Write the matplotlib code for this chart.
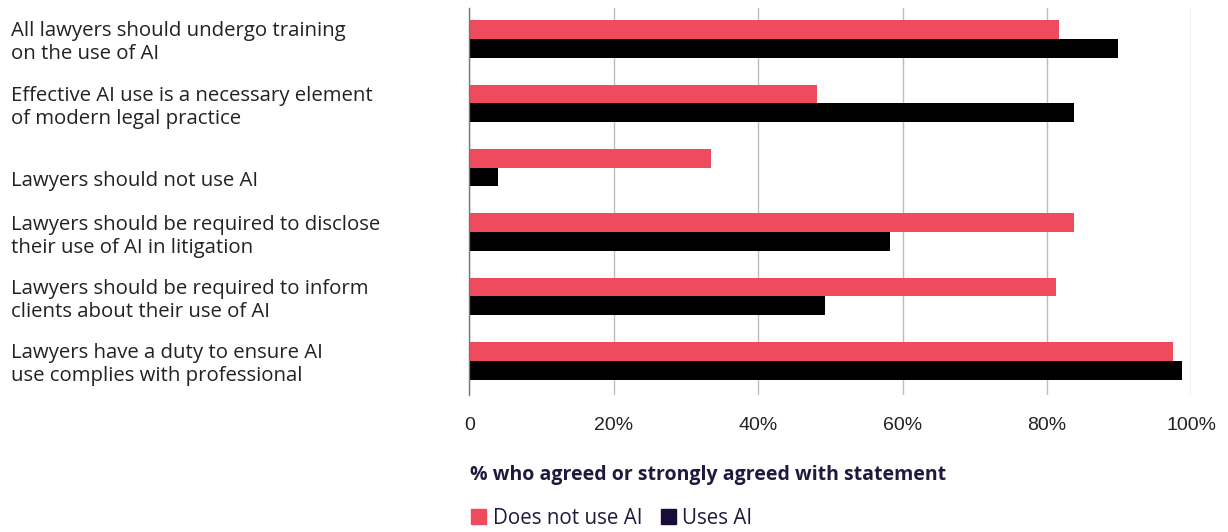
import matplotlib
matplotlib.use('Agg')
import matplotlib.pyplot as plt
from matplotlib.patches import Patch
from matplotlib.transforms import ScaledTranslation

# survey statements, top to bottom
statements = [
    'All lawyers should undergo training\non the use of AI',
    'Effective AI use is a necessary element\nof modern legal practice',
    'Lawyers should not use AI',
    'Lawyers should be required to disclose\ntheir use of AI in litigation',
    'Lawyers should be required to inform\nclients about their use of AI',
    'Lawyers have a duty to ensure AI\nuse complies with professional',
]
no_ai = [81.7, 48.1, 33.4, 83.7, 81.2, 97.5]
uses_ai = [89.8, 83.8, 4.0, 58.2, 49.2, 98.7]

tick_vals = [0, 20, 40, 60, 80, 100]
tick_labels = ['0', '20%', '40%', '60%', '80%', '100%']

red = '#ef4b5e'
navy = '#170c3a'
label_font = 'Open Sans'

fig = plt.figure(figsize=(12.28, 5.32), dpi=100)
ax = fig.add_axes([0.3823, 0.2575, 0.5878, 0.7275])

h = 0.29
ys = list(range(len(statements)))
ax.barh([y - h / 2 for y in ys], no_ai, height=h, color=red, zorder=2)
ax.barh([y + h / 2 for y in ys], uses_ai, height=h, color='black', zorder=2)

ax.set_ylim(len(statements) - 0.47, -0.48)
ax.set_xlim(0, 100)
ax.set_xticks(tick_vals)
ax.set_xticklabels(tick_labels, fontsize=14, color='#222222', family='Liberation Sans')
ax.grid(axis='x', color='#bdbdbd', lw=1, zorder=0)
ax.tick_params(axis='x', length=0, pad=16)
ax.tick_params(axis='y', length=0, pad=330)

ax.set_yticks(ys)
ax.set_yticklabels(statements, fontsize=14.7, color='#222222', family=label_font,
                   ha='left', linespacing=1.2)
# the single-line statement sits a little lower than its bars
lbl = ax.get_yticklabels()[2]
lbl.set_transform(lbl.get_transform() + ScaledTranslation(0, -8 / 72, fig.dpi_scale_trans))

for s in ['top', 'right', 'bottom']:
    ax.spines[s].set_visible(False)
ax.spines['left'].set_color('#777777')
ax.spines['left'].set_linewidth(1)

fig.text(0.3827, 1 - 475 / 532, '% who agreed or strongly agreed with statement',
         fontsize=14, fontweight='bold', color='#1e1a3c', family=label_font, va='center')

handles = [Patch(color=red, label='Does not use AI'), Patch(color=navy, label='Uses AI')]
fig.legend(handles=handles, loc='center left', bbox_to_anchor=(0.3685, 1 - 518 / 532),
           ncol=2, frameon=False, handlelength=0.75, handleheight=0.75, handletextpad=0.3,
           columnspacing=0.9, prop={'family': label_font, 'size': 14.8})
for t in fig.legends[0].get_texts():
    t.set_color('#1e1a3c')

fig.savefig('out.png', dpi=100)
